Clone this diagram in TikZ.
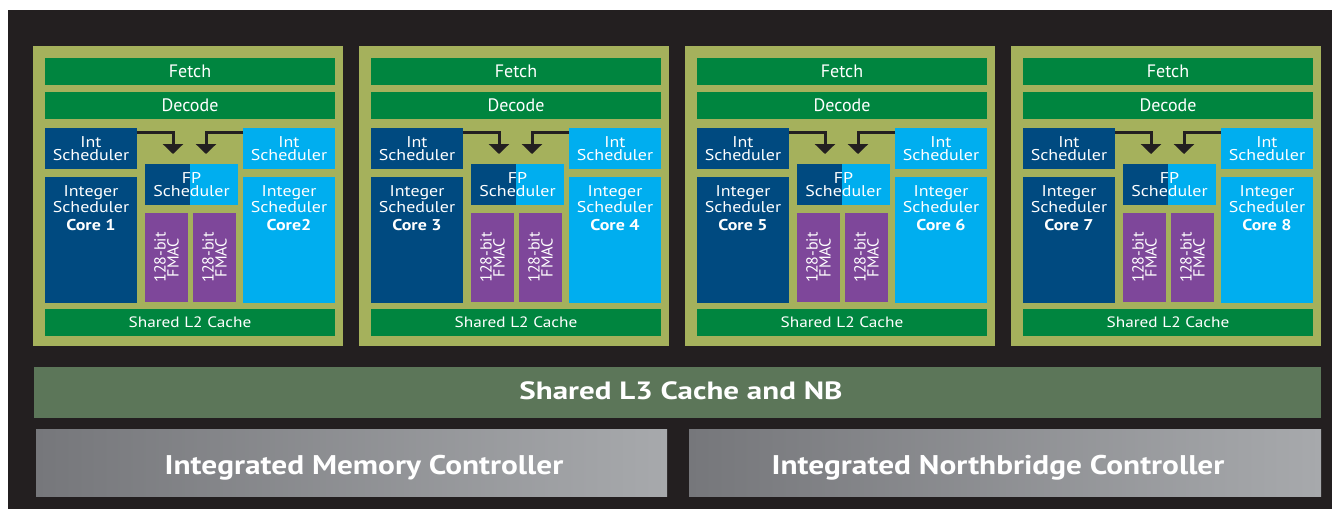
\documentclass[tikz,border=0pt]{standalone}
\usepackage{fontspec}
\setmainfont{PT Sans}
\newfontfamily\dinlike[FakeStretch=1.15]{PT Sans}
\newfontfamily\dinwideA[FakeStretch=1.24]{PT Sans}
\newfontfamily\dinwideB[FakeStretch=1.16]{PT Sans}
\usetikzlibrary{arrows.meta}
\definecolor{bgdark}{HTML}{231F20}
\definecolor{olive}{HTML}{A5B15C}
\definecolor{fgreen}{HTML}{00853F}
\definecolor{dblue}{HTML}{004A80}
\definecolor{lblue}{HTML}{00AEEF}
\definecolor{purp}{HTML}{7E479A}
\definecolor{lthree}{HTML}{5C7659}
\definecolor{grayL}{HTML}{76777B}
\definecolor{grayR}{HTML}{A7A9AC}
\newcommand\fsSmall{\dinlike\fontsize{15.6}{13}\selectfont}
\newcommand\fsLtwo{\dinlike\fontsize{15}{15}\selectfont}
\newcommand\fsFmac{\fontsize{16}{13}\selectfont}
\newcommand\fsBar{\fontsize{18}{18}\selectfont}
\begin{document}
\begin{tikzpicture}[x=1pt,y=-1pt,
  blk/.style={anchor=north west, inner sep=0pt, outer sep=0pt, draw=none, text=white, align=center, font=\fsSmall},
  txt/.style={inner sep=0pt, outer sep=0pt, text=white, align=center, font=\fsSmall},
  arr/.style={draw=bgdark, line width=3pt, -{Triangle[width=20pt,length=10pt]}}]
\useasboundingbox (0,0) rectangle (1332,509);
\fill[white] (0,0) rectangle (1332,509);
\fill[bgdark] (8,10) rectangle (1332,509);
\foreach \m/\X/\ca/\cb in {1/33/Core 1/Core2, 2/359/Core 3/Core 4, 3/685/Core 5/Core 6, 4/1011/Core 7/Core 8}{
  \node[blk, fill=olive, minimum width=310pt, minimum height=300pt] (mod\m) at (\X,46) {};
  \node[blk, fill=fgreen, minimum width=290pt, minimum height=27pt, font=\fsBar] (fetch\m) at (\X+12,58) {Fetch};
  \node[blk, fill=fgreen, minimum width=290pt, minimum height=27pt, font=\fsBar] (dec\m) at (\X+12,92) {Decode};
  \node[blk, fill=dblue, minimum width=92pt, minimum height=41pt] (intL\m) at (\X+12,128) {Int\\Scheduler};
  \node[blk, fill=lblue, minimum width=92pt, minimum height=41pt] (intR\m) at (\X+210,128) {Int\\Scheduler};
  \node[blk, fill=dblue, minimum width=92pt, minimum height=126pt] (coreL\m) at (\X+12,177) {};
  \node[blk, fill=lblue, minimum width=92pt, minimum height=126pt] (coreR\m) at (\X+210,177) {};
  \node[txt, anchor=north] (coreLt\m) at ([yshift=-9pt]coreL\m.north) {Integer\\Scheduler\\[5pt]\textbf{\ca}};
  \node[txt, anchor=north] (coreRt\m) at ([yshift=-9pt]coreR\m.north) {Integer\\Scheduler\\[5pt]\textbf{\cb}};
  \node[blk, fill=dblue, minimum width=93pt, minimum height=41pt,
        path picture={\fill[lblue] ([xshift=-1.5pt]path picture bounding box.north) rectangle (path picture bounding box.south east);}] (fp\m) at (\X+112,164) {FP\\Scheduler};
  \node[blk, fill=purp, minimum width=43pt, minimum height=89pt] (fmA\m) at (\X+112,213) {};
  \node[blk, fill=purp, minimum width=43pt, minimum height=89pt] (fmB\m) at (\X+160,213) {};
  \node[txt, rotate=90, font=\fsFmac] (fmAt\m) at (fmA\m.center) {128-bit\\FMAC};
  \node[txt, rotate=90, font=\fsFmac] (fmBt\m) at (fmB\m.center) {128-bit\\FMAC};
  \node[blk, fill=fgreen, minimum width=290pt, minimum height=27pt, font=\fsLtwo] (ltwo\m) at (\X+12,309) {Shared L2 Cache};
  \coordinate (tL\m) at (\X+140,154);
  \coordinate (tR\m) at (\X+173,154);
  \draw[arr] ([yshift=-4pt]intL\m.north east) -| (tL\m);
  \draw[arr] ([yshift=-4pt]intR\m.north west) -| (tR\m);
}
\node[blk, fill=lthree, minimum width=1287pt, minimum height=51pt] (lthreebar) at (34,367) {};
\node[txt, anchor=base, font=\dinwideA\fontsize{25}{25}\selectfont\bfseries] (lthreetxt) at (681,399) {Shared L3 Cache and NB};
\node[blk, left color=grayL, right color=grayR, minimum width=631pt, minimum height=67pt] (imc) at (36,429) {};
\node[blk, left color=grayL, right color=grayR, minimum width=632pt, minimum height=67pt] (inb) at (689,429) {};
\node[txt, anchor=base, font=\dinwideB\fontsize{27}{27}\selectfont\bfseries] (imctxt) at (364,474) {Integrated Memory Controller};
\node[txt, anchor=base, font=\dinwideB\fontsize{27}{27}\selectfont\bfseries] (inbtxt) at (998,474) {Integrated Northbridge Controller};
\end{tikzpicture}
\end{document}
